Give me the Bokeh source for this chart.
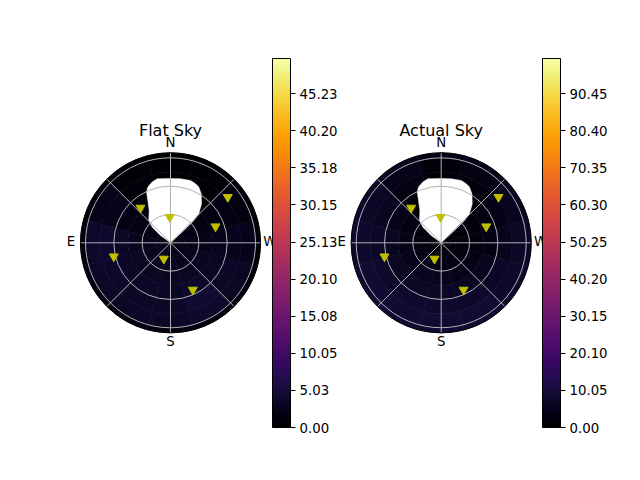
import numpy as np
from bokeh.plotting import figure
from bokeh.models import Range1d, ColorBar, LinearColorMapper, FixedTicker, PrintfTickFormatter, ColumnDataSource
from bokeh.palettes import Inferno256
from bokeh.transform import linear_cmap
from bokeh.core.properties import value
from bokeh.embed import file_html
from bokeh.resources import INLINE

# ---------------- data ----------------
titles = ["Flat Sky", "Actual Sky"]
color_max = [50.0, 100.0]
cb_ticks_flat = [0.00, 5.03, 10.05, 15.08, 20.10, 25.13, 30.15, 35.18, 40.20, 45.23]
cb_ticks_actual = [0.00, 10.05, 20.10, 30.15, 40.20, 50.25, 60.30, 70.35, 80.40, 90.45]

compass_labels = ["N", "E", "S", "W"]
compass_az = [0, 90, 180, 270]

grid_zen = [30, 60, 90]
grid_az = [0, 45, 90, 135, 180, 225, 270, 315]
zen_max = 95.3

# heat-map cells: zenith ring edges x azimuth sector centres (N=0, E=90)
zen_edges = [0, 15, 30, 45, 60, 75, 90, 95.3]
az_centers = [0, 30, 60, 90, 120, 150, 180, 210, 240, 270, 300, 330]
sky_flat = [
    [1.8, 1.8, 2.0, 2.2, 2.4, 2.5, 2.5, 2.4, 2.2, 2.0, 1.8, 1.8],
    [1.0, 1.4, 2.0, 2.5, 2.8, 3.0, 3.0, 2.9, 2.6, 2.2, 1.6, 1.1],
    [0.5, 1.0, 2.0, 2.9, 3.2, 3.3, 3.3, 3.3, 3.0, 2.5, 1.6, 0.8],
    [0.3, 0.8, 2.1, 3.4, 3.5, 3.4, 3.5, 3.8, 3.2, 2.6, 1.6, 0.6],
    [0.2, 0.8, 2.3, 4.2, 3.9, 3.5, 3.6, 4.3, 3.4, 2.6, 1.6, 0.6],
    [0.2, 0.8, 2.2, 3.8, 3.6, 3.4, 3.6, 4.0, 3.2, 2.4, 1.5, 0.6],
    [0.1, 0.3, 0.8, 1.2, 1.2, 1.2, 1.2, 1.3, 1.1, 0.9, 0.6, 0.2],
]
sky_actual = [
    [2.0, 2.0, 2.2, 2.4, 2.6, 2.6, 2.6, 2.5, 2.3, 2.1, 2.0, 2.0],
    [1.5, 1.8, 2.6, 3.2, 3.5, 3.6, 3.6, 3.4, 3.0, 2.4, 1.8, 1.5],
    [1.0, 1.8, 3.5, 4.5, 5.0, 5.2, 5.2, 5.0, 4.2, 3.0, 2.0, 1.2],
    [0.8, 2.2, 4.8, 6.0, 6.5, 6.8, 6.8, 6.5, 5.5, 4.0, 2.8, 1.5],
    [1.0, 3.0, 6.0, 7.3, 7.8, 8.0, 8.0, 7.8, 6.8, 5.5, 4.0, 2.2],
    [2.0, 4.5, 7.0, 8.2, 8.6, 8.8, 8.8, 8.6, 7.8, 6.8, 5.5, 3.5],
    [3.5, 5.5, 7.5, 8.5, 8.8, 9.0, 9.0, 8.8, 8.2, 7.4, 6.2, 4.5],
]
sky_values = [sky_flat, sky_actual]

# masked (no data) region, boundary in azimuth / zenith
mask_az = [0, 312.8, 313.7, 315.7, 321.5, 327.9, 333.1, 337.0, 342.2, 351.1, 0.0,
           11.7, 16.8, 22.2, 25.3, 28.2, 33.4, 44.2, 49.4, 53.9]
mask_zen = [0, 19.2, 34.2, 42.9, 52.8, 61.2, 66.2, 67.9, 69.3, 68.6, 68.1,
            69.2, 67.2, 63.7, 59.4, 50.8, 41.0, 33.0, 25.5, 13.1]

# stars (triangles)
star_az = [1.5, 40.6, 308.6, 289.9, 103.6, 157.3, 205.4]
star_zen = [27.2, 48.8, 77.6, 50.7, 61.8, 18.4, 55.1]

# ---------------- layout ----------------
PX = 0.9444          # pixels per degree
W, H = 640, 480
CX0_PX, CY_PX = 170.0, 242.3
centers = [0.0, 270.7 / PX]

p = figure(width=W, height=H, output_backend="svg", toolbar_location=None,
           x_axis_type=None, y_axis_type=None, min_border=0,
           x_range=Range1d(-CX0_PX / PX, (W - CX0_PX) / PX),
           y_range=Range1d(-(H - CY_PX) / PX, CY_PX / PX))
p.outline_line_color = None
p.background_fill_color = "white"
p.border_fill_color = "white"

FONT = value("DejaVu Sans")


def to_xy(cx, az, zen):
    a = np.radians(np.asarray(az, dtype=float))
    z = np.asarray(zen, dtype=float)
    return cx - z * np.sin(a), z * np.cos(a)


cb_ticks = [cb_ticks_flat, cb_ticks_actual]
cb_left = [272, 542]

for i in range(2):
    cx = centers[i]
    # heat map cells
    inner, outer, a0, a1, vals = [], [], [], [], []
    for r in range(len(zen_edges) - 1):
        for c, az in enumerate(az_centers):
            inner.append(zen_edges[r])
            outer.append(zen_edges[r + 1])
            a0.append(np.radians(90 + az - 15))
            a1.append(np.radians(90 + az + 15))
            vals.append(sky_values[i][r][c])
    src = ColumnDataSource(dict(x=[cx] * len(vals), y=[0.0] * len(vals), inner=inner,
                                outer=outer, a0=a0, a1=a1, v=vals))
    cmap = linear_cmap("v", Inferno256, 0, color_max[i])
    p.annular_wedge(x="x", y="y", inner_radius="inner", outer_radius="outer",
                    start_angle="a0", end_angle="a1", source=src,
                    fill_color=cmap, line_color=cmap, line_width=0.6)

    # masked region
    mx, my = to_xy(cx, mask_az, mask_zen)
    p.patch(list(mx), list(my), fill_color="white", line_color="white", line_width=0.5)

    # grid
    for gz in grid_zen:
        p.circle(x=cx, y=0, radius=gz, fill_color=None, line_color="#b0b0b0", line_width=1)
    p.ray(x=[cx] * len(grid_az), y=[0] * len(grid_az), length=zen_max,
          angle=[np.radians(90 + a) for a in grid_az], line_color="#b0b0b0", line_width=1)
    # outer spine
    p.circle(x=cx, y=0, radius=zen_max, fill_color=None, line_color="black", line_width=1)

    # stars
    sx, sy = to_xy(cx, star_az, star_zen)
    p.scatter(list(sx), list(sy), marker="inverted_triangle", size=9,
              fill_color="#bfbf00", line_color="#bfbf00")

    # compass labels
    lx, ly = to_xy(cx, compass_az, [zen_max + 10.0] * 4)
    p.text(list(lx), list(ly + 1.0), text=compass_labels, text_font=FONT,
           text_font_size="13.3px", text_align="center", text_baseline="middle",
           text_color="black")

    # title
    p.text([cx], [119.4], text=[titles[i]], text_font=FONT,
           text_font_size="16px", text_align="center", text_baseline="middle",
           text_color="black")

    # colour bar
    mapper = LinearColorMapper(palette=Inferno256, low=0, high=color_max[i])
    cb = ColorBar(color_mapper=mapper, ticker=FixedTicker(ticks=cb_ticks[i]),
                  formatter=PrintfTickFormatter(format="%.2f"),
                  width=18, height=369, location=(cb_left[i], 53), padding=0,
                  bar_line_color="black", bar_line_width=1,
                  major_tick_line_color="black", major_tick_in=0, major_tick_out=5,
                  minor_tick_line_color=None, label_standoff=4,
                  major_label_text_font_size="13.3px",
                  major_label_text_font="DejaVu Sans",
                  major_label_text_color="black",
                  background_fill_alpha=0, border_line_color=None)
    p.add_layout(cb)

open("out.html", "w").write(file_html(p, INLINE))
